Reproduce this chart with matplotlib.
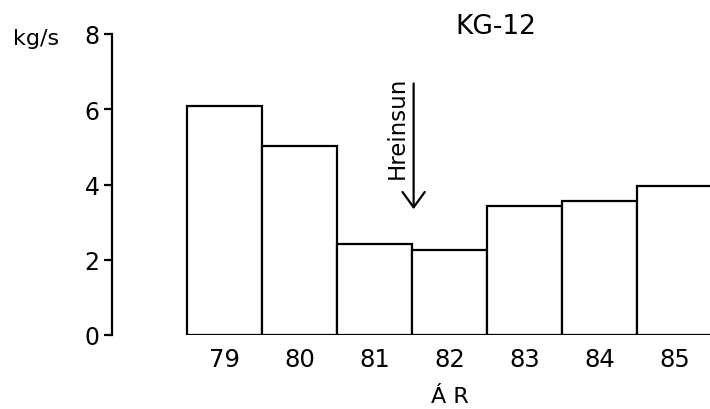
import matplotlib
matplotlib.use('Agg')
import matplotlib.pyplot as plt

# KG-12, kg/s per year
years = [79, 80, 81, 82, 83, 84, 85]
values = [6.09, 5.03, 2.42, 2.26, 3.44, 3.56, 3.96]
yticks = [0, 2, 4, 6, 8]

plt.rcParams['font.family'] = ['DejaVu Sans']

fig = plt.figure(figsize=(7.1, 4.1), dpi=100)
ax = fig.add_axes([112 / 710, 1 - 336 / 410, 1 - 112 / 710, (336 - 35) / 410])

ax.bar(years, values, width=1.0, color='white', edgecolor='black', linewidth=1.6)

ax.set_xlim(77.5, 85.47)
ax.set_ylim(0, 8)
ax.set_yticks(yticks)
ax.set_xticks(years)
ax.set_xticklabels([str(y) for y in years])

for s in ['top', 'right', 'bottom']:
    ax.spines[s].set_visible(False)
ax.spines['left'].set_linewidth(1.6)
ax.tick_params(axis='y', direction='out', length=6, width=1.6, labelsize=17, pad=3)
ax.tick_params(axis='x', length=0, labelsize=17.5, pad=9)

ax.set_xlabel('Á R', fontsize=16, labelpad=0)
ax.xaxis.set_label_coords((82 - 77.5) / (85.47 - 77.5), -0.17)

fig.text(13 / 710, 1 - 45 / 410, 'kg/s', fontsize=16, va='baseline', ha='left')
fig.text(496 / 710, 1 - 27 / 410, 'KG-12', fontsize=19, va='center', ha='center')

# Hreinsun arrow
ax.annotate('', xy=(81.52, 3.27), xytext=(81.52, 6.76),
            arrowprops=dict(arrowstyle='->,head_length=0.55,head_width=0.4',
                            mutation_scale=20, lw=1.6, color='black'))
ax.text(81.3, 5.53, 'Hreinsun', rotation=90, fontsize=16.5, ha='center', va='center')

fig.savefig('out.png', dpi=100)
